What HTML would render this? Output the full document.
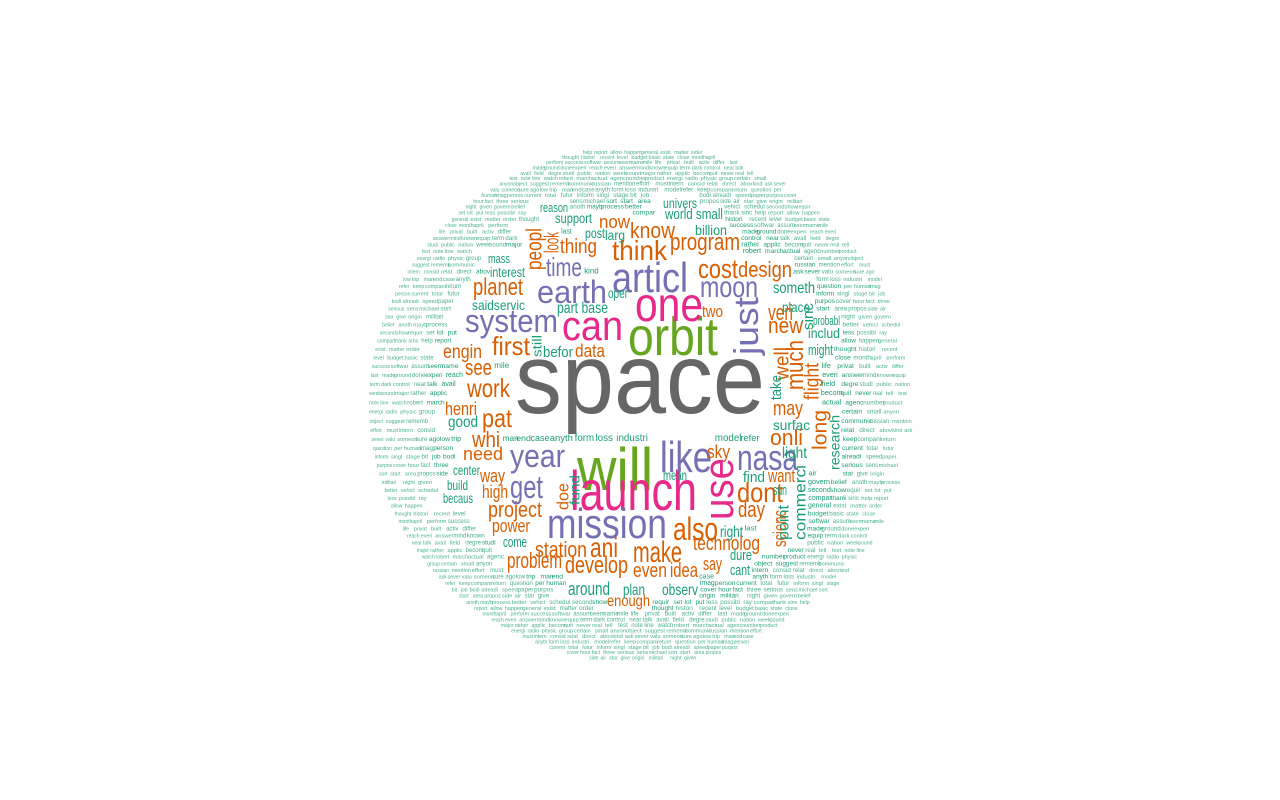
<!DOCTYPE html>
<html><head><meta charset="utf-8"><style>
html,body{margin:0;padding:0;background:#fff;width:1280px;height:800px;overflow:hidden}
svg text{font-family:"Liberation Sans",Arial,sans-serif}
</style></head><body>
<svg id="cloud" width="1280" height="800" viewBox="0 0 1280 800" xmlns="http://www.w3.org/2000/svg">
<rect width="1280" height="800" fill="#fff"/>
<g id="filler"></g>
<g id="major"></g>
</svg>
<script>
const palette = ["#1b9e77","#d95f02","#7570b3","#e7298a","#66a61e","#666666"];
const words = ["space","orbit","will","launch","can","one","use","articl","like","mission","nasa","earth","system","year","get","moon","time","just",
"think","know","now","program","thing","look","peopl","cost","design","planet","two","veri","new","first","engin","data","see","work","well","much","flight",
"henri","pat","whi","need","way","high","project","power","doe","sky","may","onli","long","dont","want","day","also","station","ani","make","technolog","scienc",
"problem","develop","even","idea","say","enough",
"reason","support","interest","mass","saidservic","oper","part base","befor","still","billion","world small","univers","post","larg","someth","place","includ","might","probabl","sinc","take",
"good","surfac","light","research","find","center","build","becaus","mean","fund","sun","point","commerci","come","right","around","plan","observ","dure","cant"];
const sizes = [100,54,60,56,42,48,42,42,44,42,36,32,32,32,32,30,26,34,
28,22,18,24,20,20,22,27,22,24,17,22,22,26,19,18,22,26,20,24,20,
18,26,22,18,18,18,22,18,17,18,20,22,20,28,18,22,32,22,28,30,20,18,
22,24,20,20,18,16,
13,14,14,13,14,14,16,15,13,14,15,14,14,14,16,14,14,15,13,15,15,
16,14,16,14,15,14,14,14,14,14,15,16,16,15,16,18,16,16,15,15];
const colorIdx = [5,4,4,3,3,3,3,2,2,2,2,2,2,2,2,2,2,2,
1,1,1,1,1,1,1,1,1,1,1,1,1,1,1,1,1,1,1,1,1,
1,1,1,1,1,1,1,1,1,1,1,1,1,1,1,1,1,1,1,1,1,1,
1,1,1,1,1,1,
0,0,0,0,0,0,0,0,0,0,0,0,0,0,0,0,0,0,0,0,0,
0,0,0,0,0,0,0,0,0,0,0,0,0,0,0,0,0,0,0,0];
// layout: horizontal [x0,x1,baseline,0]; vertical [cx,y0,y1,1]
const layout = [[515,765,413,0],[628,718,355,0],[577,653,490,0],[570,697,510,0],[562,623,340,0],[635,703,321,0],[719,458,520,1],[612,688,292,0],[660,712,472,0],[547,667,538,0],[737,798,470,0],[537,607,303,0],[465,558,332,0],[510,565,467,0],[510,543,498,0],[700,758,297,0],[546,582,276,0],[747,297,355,1],
[612,667,260,0],[630,675,238,0],[599,630,228,0],[670,740,250,0],[560,597,253,0],[552,232,253,1],[534,228,270,1],[698,738,278,0],[738,792,277,0],[473,523,295,0],[702,723,317,0],[768,793,320,0],[768,803,333,0],[492,530,355,0],[443,482,358,0],[575,605,357,0],[465,492,375,0],[467,510,397,0],[782,347,380,1],[795,340,390,1],[812,363,400,1],
[445,477,415,0],[482,512,427,0],[472,500,447,0],[463,503,460,0],[480,505,482,0],[482,508,498,0],[488,542,517,0],[492,530,532,0],[563,483,510,1],[707,730,458,0],[773,803,415,0],[770,803,445,0],[820,410,450,1],[737,783,502,0],[768,795,482,0],[738,765,517,0],[673,718,540,0],[535,587,557,0],[590,618,557,0],[633,682,562,0],[693,760,550,0],[780,510,547,1],
[507,562,568,0],[565,628,573,0],[633,667,577,0],[670,698,577,0],[703,722,570,0],[607,650,606,0],
[540,568,212,0],[555,592,223,0],[490,525,277,0],[488,510,263,0],[472,525,310,0],[608,628,298,0],[557,608,313,0],[543,573,357,0],[537,335,357,1],[695,727,235,0],[665,723,219,0],[663,697,208,0],[585,605,238,0],[605,625,240,0],[773,815,293,0],[782,810,312,0],[808,840,338,0],[808,833,355,0],[813,840,325,0],[808,303,330,1],[776,375,400,1],
[448,478,427,0],[773,810,430,0],[782,807,458,0],[835,415,470,1],[743,765,482,0],[453,480,475,0],[447,468,490,0],[443,473,503,0],[663,687,480,0],[575,475,505,1],[773,787,495,0],[783,505,540,1],[800,465,540,1],[503,527,547,0],[720,743,537,0],[568,610,595,0],[623,645,595,0],[662,698,595,0],[730,752,560,0],[730,750,575,0]];
const fillerWords = ["help","report","allow","happen","general","exist","matter","order","thought","histori","recent","level","budget","basic","state","close","month","april","perform","success","softwar","assum","seem","name","mile","life","privat","built","activ","differ","last","made","ground","done","experi","reach","everi","answer","mind","known","equip","term","dark","control","near","talk","avail","field","degre","studi","public","nation","week","sound","major","rather","applic","becom","quit","never","real","tell","test","note","line","watch","robert","march","actual","agenc","number","product","energi","radio","physic","group","certain","small","anyon","object","suggest","rememb","communic","russian","mention","effort","must","intern","consid","relat","direct","abov","kind","ask","sever","valu","someon","sure","ago","low","trip","man","end","case","anyth","form","loss","industri","model","refer","keep","compani","return","question","per","human","imag","person","current","total","futur","inform","singl","stage","bit","job","bodi","alreadi","speed","paper","purpos","cover","hour","fact","three","serious","sens","michael","sort","start","area","propos","side","air","star","give","origin","militari","night","given","govern","belief","anoth","mayb","process","better","vehicl","schedul","second","show","requir","set","lot","put","less","possibl","ray","compar","thank","sinc"];
const boxes = [];
const NS = "http://www.w3.org/2000/svg";
const major = document.getElementById("major");
function addText(parent, txt, fs, col, attrs){
  const t = document.createElementNS(NS,"text");
  for (const k in attrs) t.setAttribute(k, attrs[k]);
  t.setAttribute("font-size", fs);
  t.setAttribute("fill", col);
  t.textContent = txt;
  parent.appendChild(t);
  return t;
}
for (let i=0;i<words.length;i++){
  const L = layout[i], fs = sizes[i], col = palette[colorIdx[i]];
  let t;
  if (L[3]===0){
    t = addText(major, words[i], fs, col, {x:L[0], y:L[2], textLength:L[1]-L[0], lengthAdjust:"spacingAndGlyphs"});
    boxes.push([L[0]-1, L[2]-fs*0.74, L[1]+1, L[2]+fs*0.18]);
  } else {
    const bx = L[0]+fs*0.33, cy=(L[1]+L[2])/2;
    t = addText(major, words[i], fs, col, {x:bx, y:cy, "text-anchor":"middle", textLength:L[2]-L[1], lengthAdjust:"spacingAndGlyphs", transform:"rotate(-90 "+bx+" "+cy+")"});
    boxes.push([L[0]-fs*0.42, L[1]-1, L[0]+fs*0.42, L[2]+1]);
  }
  
  
}
const filler = document.getElementById("filler");
const cx0=640, cy0=406, rx=272, ry=258;
function hits(b){for(const c of boxes){if(b[0]<c[2]&&b[2]>c[0]&&b[1]<c[3]&&b[3]>c[1])return true;}return false;}
let wi=0, y=cy0-ry+6;
while (y < cy0+ry){
  const dy=(y-cy0)/ry;
  const half = rx*Math.sqrt(Math.max(0,1-dy*dy));
  let rowFs = 5.5 + 5*(1-Math.abs(dy));
  let x = cx0-half+1;
  while (x < cx0+half-3){
    const r = Math.sqrt(((x-cx0)/rx)**2 + dy*dy);
    const fs = Math.max(5, Math.min(rowFs, 5 + 7*(1-r)));
    const w = fillerWords[wi%fillerWords.length];
    const ww = w.length*fs*0.5;
    const b=[x, y-fs*0.75, x+ww, y+fs*0.15];
    const rr = Math.sqrt(((x+ww-cx0)/rx)**2 + dy*dy);
    if (rr<=1.01 && !hits(b)){
      const t = addText(filler, w, fs.toFixed(1), "#1b9e77", {x:x.toFixed(1), y:y.toFixed(1), "fill-opacity": (r>0.8?0.8:1)});
      
      
      wi++;
      x += ww + 1.2;
    } else x += 2;
  }
  y += rowFs*0.9;
}
</script>
</body></html>
